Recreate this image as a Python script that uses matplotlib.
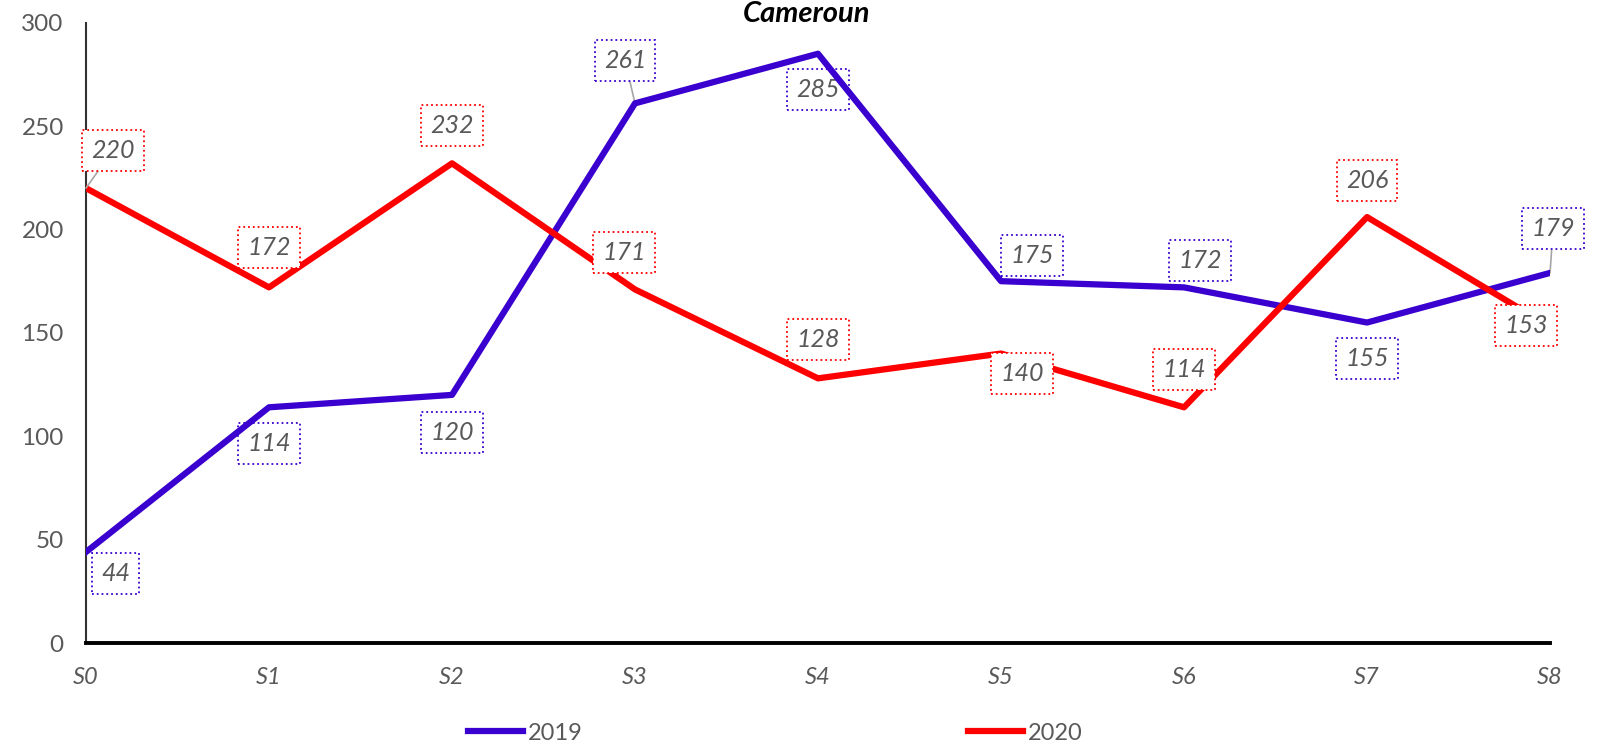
import matplotlib
matplotlib.use("Agg")
import matplotlib.pyplot as plt

plt.rcParams['font.family'] = ['Lato', 'DejaVu Sans']

weeks = ["S0", "S1", "S2", "S3", "S4", "S5", "S6", "S7", "S8"]
cases_2019 = [44, 114, 120, 261, 285, 175, 172, 155, 179]
cases_2020 = [220, 172, 232, 171, 128, 140, 114, 206, 153]

blue = "#3A00CF"
red = "#FF0000"
grey = "#595959"

# label offsets in pixels (dx, dy) and whether a leader line is drawn
offs_2019 = [(30, -21), (0, -36), (0, -38), (-10, 43), (0, -36), (31, 26), (16, 27), (0, -36), (3, 44)]
lead_2019 = [False, False, False, True, False, False, False, False, True]
offs_2020 = [(27, 38), (0, 40), (0, 38), (-11, 37), (0, 39), (21, -20), (0, 38), (0, 37), (-24, 1)]
lead_2020 = [True, False, False, False, False, False, False, False, False]

fig = plt.figure(figsize=(15.98, 7.45), dpi=100)
ax = fig.add_axes([0.0538, 0.1369, 0.9162, 0.8326])

x = list(range(len(weeks)))
ax.plot(x, cases_2019, color=blue, lw=4.5, label="2019", zorder=4)
ax.plot(x, cases_2020, color=red, lw=4.5, label="2020", zorder=5)


def add_labels(vals, offs, leads, color, z):
    for i, v in enumerate(vals):
        arrow = None
        if leads[i]:
            arrow = dict(arrowstyle='-', color='#A6A6A6', lw=1.2, shrinkA=0, shrinkB=0)
        ax.annotate(str(v), (i, v), xytext=offs[i], textcoords='offset pixels',
                    ha='center', va='center', fontsize=18, style='italic', color=grey,
                    bbox=dict(boxstyle='square,pad=0.36', fc='white', ec=color, ls=':', lw=1.3),
                    arrowprops=arrow, zorder=z, annotation_clip=False)


add_labels(cases_2019, offs_2019, lead_2019, blue, 3)
add_labels(cases_2020, offs_2020, lead_2020, red, 6)

ax.set_xlim(0, 8)
ax.set_ylim(0, 300)
ax.set_yticks(range(0, 301, 50))
ax.set_xticks(x)
ax.set_xticklabels(weeks, style='italic')
ax.tick_params(axis='y', length=0, pad=16, labelsize=17.5, labelcolor=grey)
ax.tick_params(axis='x', length=0, pad=17, labelsize=17, labelcolor=grey)

for s in ["top", "right"]:
    ax.spines[s].set_visible(False)
ax.spines["left"].set_color("#333333")
ax.spines["left"].set_linewidth(1.5)
ax.spines["bottom"].set_color("black")
ax.spines["bottom"].set_linewidth(2.8)

fig.text(0.505, 0.999, "Cameroun", ha='center', va='top', fontsize=21,
         fontweight='bold', style='italic', color='black')

leg = fig.legend(loc='center', bbox_to_anchor=(0.485, 0.016), ncol=2, frameon=False,
                 fontsize=17, handlelength=2.35, handletextpad=0.2, columnspacing=16.3,
                 borderpad=0)
for t in leg.get_texts():
    t.set_color(grey)

fig.savefig("out.png", dpi=100)
